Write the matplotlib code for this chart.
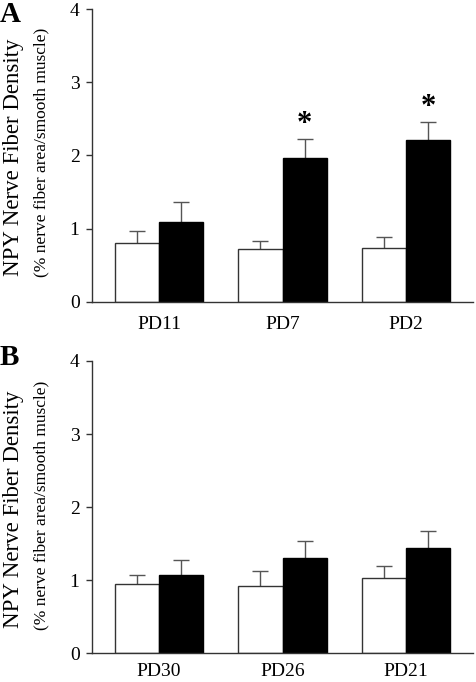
import matplotlib
matplotlib.use("Agg")
import matplotlib.pyplot as plt
import numpy as np

plt.rcParams['font.family'] = ['Liberation Serif', 'DejaVu Serif']

# Panel A
groups_a = ["PD11", "PD7", "PD2"]
white_a = [0.80, 0.72, 0.74]
white_a_err = [0.17, 0.11, 0.15]
black_a = [1.09, 1.965, 2.21]
black_a_err = [0.28, 0.26, 0.25]
stars_a = ["", "*", "*"]

# Panel B
groups_b = ["PD30", "PD26", "PD21"]
white_b = [0.95, 0.925, 1.03]
white_b_err = [0.12, 0.20, 0.16]
black_b = [1.075, 1.305, 1.435]
black_b_err = [0.195, 0.225, 0.245]
stars_b = ["", "", ""]

edge = "#333333"
ecol = "#555555"
w = 0.357

fig = plt.figure(figsize=(4.77, 6.82), dpi=100)
ax_a = fig.add_axes([0.1929, 0.5576, 0.7987, 0.4288])
ax_b = fig.add_axes([0.1929, 0.0421, 0.7987, 0.4286])


def upper_err(ax, xs, vals, errs):
    # only the upper half of the error bar is shown
    tops = np.array(vals) + np.array(errs)
    ax.vlines(xs, vals, tops, color=ecol, linewidth=1.0, zorder=1)
    ax.plot(xs, tops, ls="none", marker="_", ms=12, mew=1.0, color=ecol, zorder=1)


def draw(ax, groups, white, white_err, black, black_err, stars, pad):
    x = np.arange(len(groups))
    upper_err(ax, x - w / 2, white, white_err)
    upper_err(ax, x + w / 2, black, black_err)
    ax.bar(x - w / 2, white, w, color="white", edgecolor=edge, linewidth=1.0, zorder=2)
    ax.bar(x + w / 2, black, w, color="black", edgecolor="black", linewidth=1.0, zorder=2)
    for i, s in enumerate(stars):
        if s:
            ax.text(x[i] + w / 2, black[i] + black_err[i] + 0.2, s,
                    ha="center", va="center", fontsize=22, fontweight="bold")
    ax.set_xlim(-0.5425, 2.542)
    ax.set_ylim(0, 4)
    ax.set_yticks([0, 1, 2, 3, 4])
    ax.set_xticks(x)
    ax.set_xticklabels(groups, fontsize=14)
    ax.tick_params(axis="x", length=0, pad=pad)
    ax.tick_params(axis="y", direction="out", length=4, width=1,
                   labelsize=14, pad=5, color=edge)
    for sp in ["top", "right"]:
        ax.spines[sp].set_visible(False)
    for sp in ["left", "bottom"]:
        ax.spines[sp].set_color(edge)
        ax.spines[sp].set_linewidth(1.0)


draw(ax_a, groups_a, white_a, white_a_err, black_a, black_a_err, stars_a, 10)
draw(ax_b, groups_b, white_b, white_b_err, black_b, black_b_err, stars_b, 7)

for yb, ys, lbl, ly in [(0.7698, 0.7764, "A", 0.979), (0.2537, 0.2595, "B", 0.476)]:
    fig.text(0.029, yb, "NPY Nerve Fiber Density", rotation=90,
             ha="center", va="center", fontsize=16.5)
    fig.text(0.086, ys, "(% nerve fiber area/smooth muscle)", rotation=90,
             ha="center", va="center", fontsize=12.5)
    fig.text(0.0, ly, lbl, ha="left", va="center", fontsize=21, fontweight="bold")

fig.savefig("out.png", dpi=100)
